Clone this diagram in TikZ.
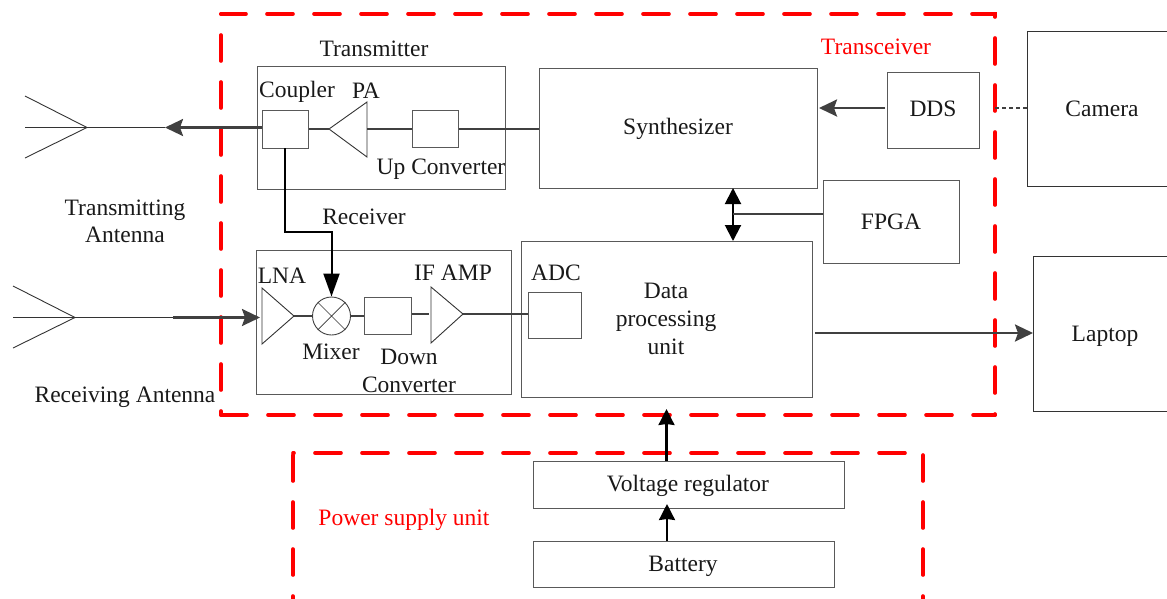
\documentclass[tikz,border=0pt]{standalone}
\usepackage{fontspec}
\setmainfont{Liberation Serif}
\usetikzlibrary{arrows.meta}
\tikzset{
 x=1pt,y=-1pt,
 box/.style={draw=black!65,line width=0.9pt,rectangle,minimum width=#1,inner sep=0pt},
 txt/.style={font=\fontsize{23.5}{27}\selectfont,text=black!90,inner sep=0pt,align=center},
 redtxt/.style={font=\fontsize{23.5}{27}\selectfont,text=red,inner sep=0pt},
 zone/.style={draw=red,line width=3.6pt,line cap=round,dash pattern=on 26pt off 21pt},
 thin line/.style={draw=black!80,line width=0.9pt},
 sig/.style={draw=black!75,line width=2.6pt},
 arr/.style={draw=black!75,line width=2.6pt,-{Stealth[length=18pt,width=17pt,inset=3pt]}},
 recv/.style={draw=black,line width=2pt,-{Stealth[length=23pt,width=16pt,inset=0pt]}},
 darr/.style={draw=black,line width=2pt,{Stealth[length=16pt,width=16pt,inset=0pt]}-{Stealth[length=16pt,width=16pt,inset=0pt]}},
 vup/.style={draw=black,line width=2.2pt,-{Stealth[length=16pt,width=16pt,inset=1pt]}},
}
\newcommand{\bx}[5]{\node[box=#4 pt,minimum height=#5 pt,anchor=north west] (#1) at (#2,#3) {};}
\begin{document}
\begin{tikzpicture}
\useasboundingbox (0,0) rectangle (1167,598);
% zones
\draw[zone,dash phase=1pt] (221,14) -- (995,14) -- (995,415);
\draw[zone,dash phase=4pt] (995,415) -- (221,415);
\draw[zone,dash phase=22pt] (221,415) -- (221,14);
\draw[zone] (293,455) -- (293,600);
\draw[zone,dash phase=25pt] (293,453) -- (923,453);
\draw[zone] (923,455) -- (923,600);
% boxes
\bx{tx}{257}{66}{248}{123}
\bx{rx}{256}{250}{255}{144}
\bx{syn}{539}{68}{278}{120}
\bx{dds}{887}{72}{92}{76}
\bx{fpga}{823}{180}{136}{83}
\bx{dpu}{521}{241}{291}{156}
\bx{adc}{528}{292}{53}{46}
\bx{coup}{262}{110}{46}{38}
\bx{up}{412}{110}{46}{37}
\bx{down}{364}{297}{47}{37}
\bx{vr}{533}{461}{311}{47}
\bx{bat}{533}{541}{301}{46}
\draw[thin line] (1167,31) -- (1027,31) -- (1027,186) -- (1167,186);
\draw[thin line] (1167,256) -- (1033,256) -- (1033,411) -- (1167,411);
\coordinate (camL) at (1027,108);
\coordinate (lapL) at (1033,333);
\coordinate (zoneR) at (995,108);
% antennas
\coordinate (txa) at (87,127.5);
\coordinate (rxa) at (75,317.5);
\coordinate (txj) at (165,127.5);
\coordinate (rxj) at (173,317.5);
\draw[thin line] (25,96) -- (txa) -- (25,158) (25,127.5) -- (txa);
\draw[thin line] (13,286) -- (rxa) -- (13,348) (13,317.5) -- (rxa);
% amps
\coordinate (paA) at (329,129);
\coordinate (paB) at (367,129);
\coordinate (lnaT) at (260,317.5);
\coordinate (lnaA) at (294,316);
\coordinate (ifB) at (431,314);
\coordinate (ifA) at (463,314);
\draw[thin line] (367,102) -- (367,157) -- (paA) -- cycle;
\draw[thin line] (262,288) -- (262,344) -- (lnaA) -- cycle;
\draw[thin line] (431,287) -- (431,343) -- (ifA) -- cycle;
% mixer
\node[draw=black!75,line width=0.9pt,circle,minimum size=38pt,inner sep=0pt] (mix) at (331.5,316) {};
\draw[thin line,line width=0.7pt] (mix.north west) -- (mix.south east) (mix.north east) -- (mix.south west);
% connectors
\draw[thin line] (txa) -- (txj);
\draw[arr] (262,127.5) -- (txj);
\draw[sig] (paA) -- (paA -| coup.east);
\draw[sig] (paB) -- (paB -| up.west);
\draw[sig] (up.east |- paB) -- (syn.west |- paB);
\draw[arr] (885,108) -- (819,108);
\draw[draw=black!75,line width=1.8pt,dash pattern=on 4pt off 3pt] (zoneR) -- (camL);
\draw[thin line] (rxa) -- (rxj);
\draw[arr] (rxj) -- (lnaT);
\draw[sig] (lnaA) -- (mix.west);
\draw[sig] (mix.east) -- (mix.east -| down.west);
\draw[sig] (412,314) -- (429,314);
\draw[sig] (ifA) -- (ifA -| adc.west);
\draw[recv] (285,148) -- (285,232) -- (331.5,232) -- (mix.north);
\draw[darr] (733,188) -- (733,241);
\draw[sig,line width=1.5pt] (733,214) -- (fpga.west |- 0,214);
\draw[arr] (815,333) -- (lapL);
\draw[vup] (666.5,461) -- (666.5,409);
\draw[vup] (667,541) -- (667,504);
% labels
\node[txt] at (374,49) {Transmitter};
\node[txt] at (297,92) {Coupler};
\node[txt] at (366,91) {PA};
\node[txt] at (441,169) {Up Converter};
\node[txt] at (678,129) {Synthesizer};
\node[txt] at (933,109) {DDS};
\node[txt] at (1102,109) {Camera};
\node[txt] at (891,222) {FPGA};
\node[txt] at (364,217) {Receiver};
\node[txt] at (282,276) {LNA};
\node[txt] at (331,352) {Mixer};
\node[txt] at (453,273) {IF AMP};
\node[txt] at (556,273) {ADC};
\node[txt] at (666,319) {Data\\[1pt]processing\\[1pt]unit};
\node[txt] at (1105,336) {Laptop};
\node[txt] at (409,371) {Down\\[1pt]Converter};
\node[txt] at (125,221) {Transmitting\\[0pt]Antenna};
\node[txt] at (125,397) {Receiving Antenna};
\node[txt] at (688,486) {Voltage regulator};
\node[txt] at (683,566) {Battery};
\node[redtxt] at (876,47) {Transceiver};
\node[redtxt] at (404,520) {Power supply unit};
\end{tikzpicture}
\end{document}
